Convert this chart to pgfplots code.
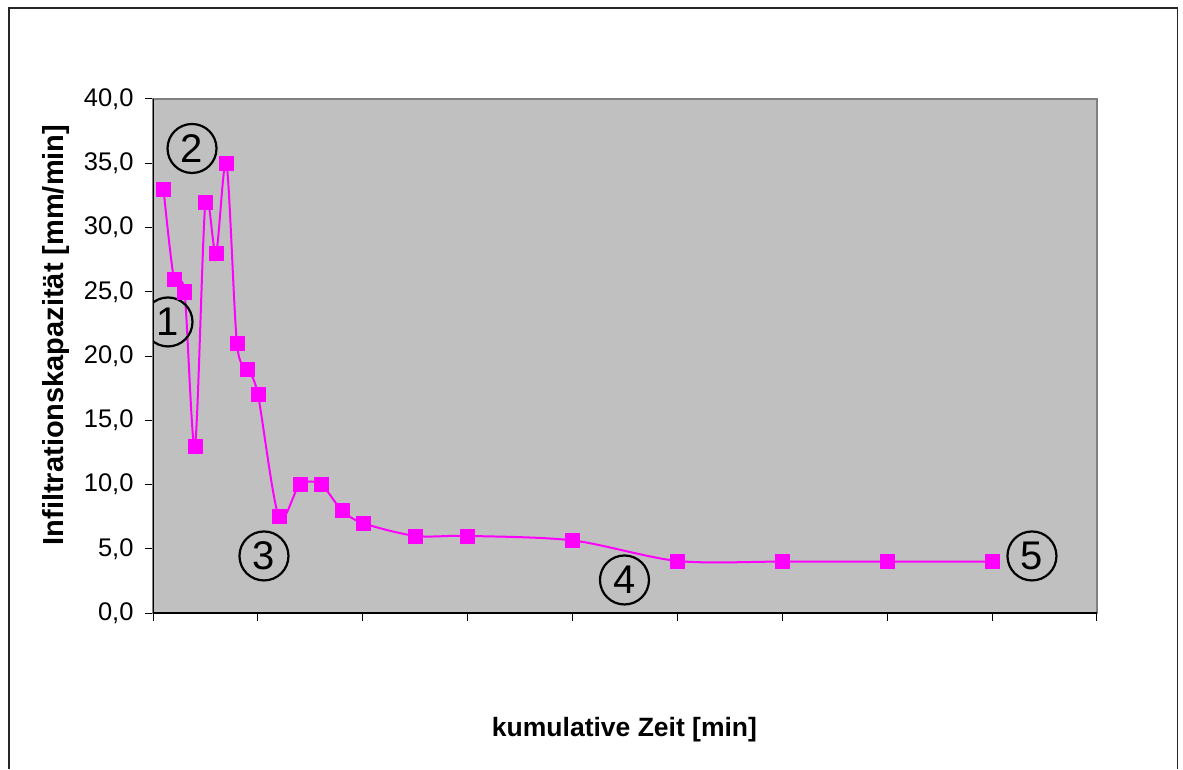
\documentclass[border=0pt]{standalone}
\usepackage{pgfplots}
\pgfplotsset{compat=1.18}
\usepackage{fontspec}
\setmainfont{Liberation Sans}
\definecolor{mag}{RGB}{255,0,255}
\definecolor{bggray}{RGB}{192,192,192}
\definecolor{framegray}{RGB}{128,128,128}
\begin{document}
\begin{tikzpicture}[x=1pt,y=1pt]
\useasboundingbox (0,0) rectangle (1183,769);
\draw[line width=1.8pt, black!85] (9,0) -- (9,761) -- (1177.5,761) -- (1177.5,0);
\begin{axis}[
  at={(153pt,156pt)}, anchor=south west,
  scale only axis, width=944pt, height=514pt,
  xmin=0, xmax=90, ymin=0, ymax=40,
  xtick={0,10,...,90}, xticklabels={},
  ytick={0,5,...,40},
  xtick pos=bottom, ytick pos=left,
  tick align=outside, major tick length=8pt,
  tick style={black, line width=1pt},
  axis line style={framegray, line width=1.5pt},
  axis background/.style={fill=bggray},
  yticklabel style={font=\fontsize{25.5}{30}\selectfont, xshift=-8pt},
  /pgf/number format/.cd, fixed, fixed zerofill, precision=1, use comma, assume math mode=true,
]
\addplot[mag, line width=2pt, smooth, tension=0.5, mark=square*, mark size=7pt,
  mark options={solid, fill=mag, draw=mag, line width=0.5pt}]
  coordinates {
  (1,33) (2,26) (3,25) (4,13) (5,32) (6,28) (7,35) (8,21) (9,19) (10,17)
  (12,7.5) (14,10) (16,10) (18,8) (20,7) (25,6) (30,6) (40,5.65) (50,4.05)
  (60,4) (70,4) (80,4)
  };
\draw[black, line width=1.5pt] (rel axis cs:0,1) -- (rel axis cs:0,0) -- (rel axis cs:1,0);
\begin{scope}[every node/.style={circle, draw, line width=2.2pt, minimum size=49pt, inner sep=0pt, font=\fontsize{40}{42}\selectfont}]
\node at (axis cs:1.43,22.65) {1};
\node at (axis cs:3.72,36.15) {2};
\node at (axis cs:10.58,4.44) {3};
\node at (axis cs:44.95,2.57) {4};
\node at (axis cs:83.8,4.44) {5};
\end{scope}
\end{axis}
\node[anchor=base, font=\bfseries\fontsize{26.5}{30}\selectfont] at (624.5,33) {kumulative Zeit [min]};
\node[anchor=base, rotate=90, font=\bfseries\fontsize{29}{32}\selectfont] at (63,434) {Infiltrationskapazität [mm/min]};
\end{tikzpicture}
\end{document}
